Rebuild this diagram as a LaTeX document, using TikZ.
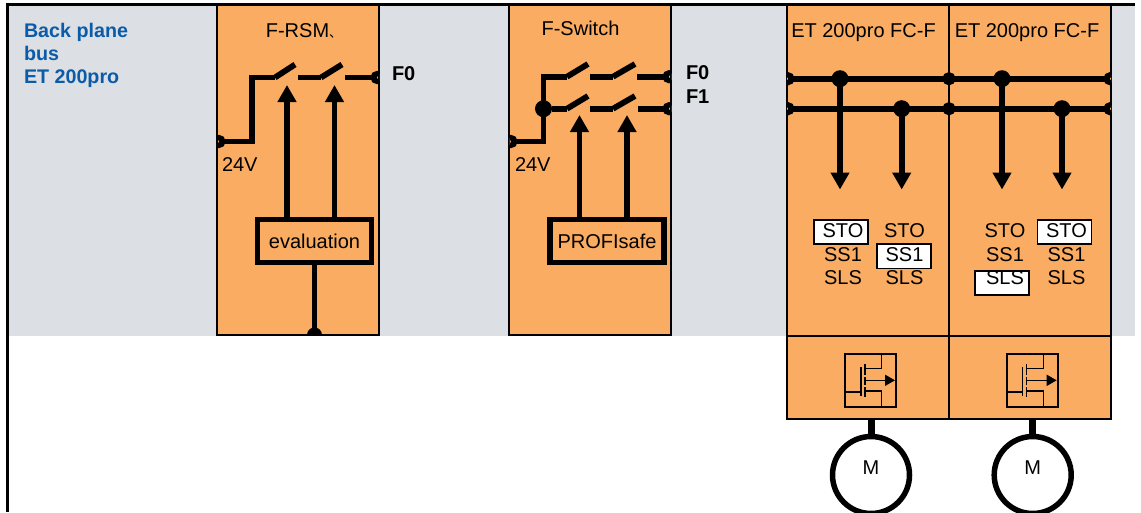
\documentclass[tikz,border=0pt]{standalone}
\usepackage{fontspec}
\setmainfont{Liberation Sans}
\newfontfamily\cjk{Noto Sans CJK SC}
\usetikzlibrary{arrows.meta,calc}
\definecolor{panelgrey}{HTML}{DCE0E4}
\definecolor{modorange}{HTML}{F9AC62}
\definecolor{busblue}{HTML}{0B5BA8}
\tikzset{
  x=1pt,y=-1pt,
  every node/.style={font=\fontsize{20}{23}\selectfont,text=black,inner sep=0pt,outer sep=0pt},
  module/.style={draw=black,line width=1.8pt,fill=modorange,minimum width=#1},
  wire/.style={line width=5.8pt,draw=black},
  signal/.style={wire,-{Triangle[length=17pt,width=18pt]}},
  logicbox/.style={draw=black,line width=5.5pt,fill=modorange,minimum width=114pt,minimum height=43pt},
  modeflag/.style={draw=black,line width=1.6pt,fill=white,minimum width=54pt,minimum height=24.5pt},
  bigdot/.style={circle,fill=black,minimum size=17pt},
  port/.style={draw=black,line width=5pt,fill=modorange},
  thin wire/.style={line width=1.5pt,draw=black},
  fetbox/.style={draw=black,line width=1.8pt,minimum width=51pt,minimum height=53pt},
  motor/.style={circle,draw=black,line width=5.5pt,fill=white,minimum size=77pt},
  rail label/.style={font=\fontsize{20}{23}\selectfont\bfseries},
}
\begin{document}
\begin{tikzpicture}
\useasboundingbox (0,0) rectangle (1141,512);
% background and frame
\fill[panelgrey] (8,5) rectangle (1135,336);
\fill[black] (6,3) rectangle (1135,6);
\fill[black] (6,3) rectangle (8.5,512);
% modules
\node[module=162pt,minimum height=330pt] (rsm) at (298,170) {};
\node[module=162pt,minimum height=330pt] (sw) at (590.3,170) {};
\node[module=162pt,minimum height=331pt] (fc1) at (868,170.5) {};
\node[module=162pt,minimum height=331pt] (fc2) at (1030,170.5) {};
\node[module=162pt,minimum height=83pt] (pw1) at (868,377.5) {};
\node[module=162pt,minimum height=83pt] (pw2) at (1030,377.5) {};
% titles
\node (rsmt) at (304,31) {F-RSM\raisebox{0pt}[0pt][0pt]{\cjk\fontsize{13}{13}\selectfont 、}};
\node (swt) at (580.5,28.5) {F-Switch};
\node (fc1t) at (863.5,32.5) {ET 200pro FC-F};
\node (fc2t) at (1027,32.5) {ET 200pro FC-F};
\node[anchor=north west,align=left,text=busblue,font=\fontsize{19.7}{23.3}\selectfont\bfseries] (bus) at (24,23) {Back plane\\bus\\ET 200pro};
\node[anchor=west] (v1) at (222,164.5) {24V};
\node[anchor=west] (v2) at (515,164.5) {24V};
\node[anchor=west,rail label] (f0a) at (392,73.5) {F0};
\node[anchor=west,rail label] (f0b) at (686,73) {F0};
\node[anchor=west,rail label] (f1b) at (686,96.5) {F1};
% coordinates for wiring
\coordinate (a0) at (219,141.5);
\coordinate (a1) at (252,141.5);
\coordinate (a2) at (252,77.5);
\coordinate (a3) at (275,77.5);
\coordinate (a4) at (295,64.5);
\coordinate (a5) at (298,77.5);
\coordinate (a6) at (321,77.5);
\coordinate (a7) at (342,64.5);
\coordinate (a8) at (345,77.5);
\coordinate (a9) at (377,77.5);
\coordinate (b0) at (511,141.5);
\coordinate (b1) at (543.5,141.5);
\coordinate (b2) at (543.5,76.7);
\coordinate (c0) at (543.5,108.7);
\coordinate (bot) at (314.5,335);
% clipped ports
\begin{scope}
\clip (rsm.north west) rectangle (rsm.south east)
      (sw.north west) rectangle (sw.south east)
      (fc1.north west) rectangle (fc2.south east);
\foreach \p in {a0,a9,b0} \draw[port] (\p) circle (4);
\draw[port] (669,76.7) circle (4);
\draw[port] (669,108.7) circle (4);
\fill[black] (bot) circle (7.5);
\foreach \x in {788,949,1110} { \draw[port] (\x,78.7) circle (4); \draw[port] (\x,108.7) circle (4); }
\end{scope}
% F-RSM wiring
\draw[wire,line join=miter] (a0) -- (a1) -- (a2) -- (a3);
\draw[wire] (a3) -- (a4);
\draw[wire] (a5) -- (a6);
\draw[wire] (a6) -- (a7);
\draw[wire] (a8) -- (a9);
\node[logicbox] (eval) at (314.5,241) {evaluation};
\draw[wire] (eval) -- (bot);
\draw[signal] (287,218) -- (287,85);
\draw[signal] (334.5,218) -- (334.5,85);
% F-Switch wiring
\draw[wire] (b0) -- (b1) -- (b2) -- (567,76.7);
\draw[wire] (567,76.7) -- (588,64);
\draw[wire] (590,76.7) -- (613,76.7);
\draw[wire] (613,76.7) -- (635,64);
\draw[wire] (637,76.7) -- (669,76.7);
\node[bigdot] (j0) at (c0) {};
\draw[wire] (j0) -- (567,108.7);
\draw[wire] (567,108.7) -- (588,96);
\draw[wire] (590,108.7) -- (613,108.7);
\draw[wire] (613,108.7) -- (635,96);
\draw[wire] (638,108.7) -- (669,108.7);
\node[logicbox] (prof) at (607,241) {PROFIsafe};
\draw[signal] (579.5,218) -- (579.5,115);
\draw[signal] (627,218) -- (627,115);
% FC-F buses
\draw[wire] (788,78.7) -- (1110,78.7);
\draw[wire] (788,108.7) -- (1110,108.7);
\foreach \n/\x/\y in {d1/840/78.7,d2/901.7/108.7,d3/1002/78.7,d4/1062/108.7}
  \node[bigdot] (\n) at (\x,\y) {};
\draw[signal] (d1.center) -- (840,189.5);
\draw[signal] (d2.center) -- (901.7,189.5);
\draw[signal] (d3.center) -- (1002,189.5);
\draw[signal] (d4.center) -- (1062,189.5);
% mode flags
\node[modeflag] (m1) at (841,232) {};
\node[modeflag] (m2) at (903.7,256.3) {};
\node[modeflag] (m3) at (1002.2,283) {};
\node[modeflag] (m4) at (1064.5,232) {};
\foreach \n/\x in {1/843,2/904.5,3/1005,4/1066.5} {
  \node (sto\n) at (\x,231) {STO};
  \node (ss\n) at (\x,254.5) {SS1};
  \node (sls\n) at (\x,277.5) {SLS};
}
% MOSFET symbols
\foreach \n/\dx in {1/0,2/161.7} {
\begin{scope}[shift={(\dx,0)}]
\node[fetbox] (fet\n) at (870.5,380.5) {};
\draw[thin wire] (845,392) -- (861,392);
\draw[thin wire] (861,367) -- (861,396);
\draw[thin wire] (865,364) -- (865,375);
\draw[thin wire] (865,377) -- (865,385);
\draw[thin wire] (865,387) -- (865,397);
\draw[thin wire] (865,368.7) -- (881.7,368.7) -- (881.7,354);
\draw[thin wire] (865,391) -- (881.7,391) -- (881.7,407);
\draw[thin wire,-{Triangle[length=10pt,width=11pt]}] (865,380.3) -- (895,380.3);
\end{scope}
}
% motors
\node[motor] (mot1) at (871,475) {};
\node[motor] (mot2) at (1032.7,475) {};
\node (ml1) at (871,468) {M};
\node (ml2) at (1032.7,468) {M};
\draw[line width=7pt,draw=black] (pw1.south -| mot1.north) -- (mot1.north);
\draw[line width=7pt,draw=black] (pw2.south -| mot2.north) -- (mot2.north);
\end{tikzpicture}
\end{document}
